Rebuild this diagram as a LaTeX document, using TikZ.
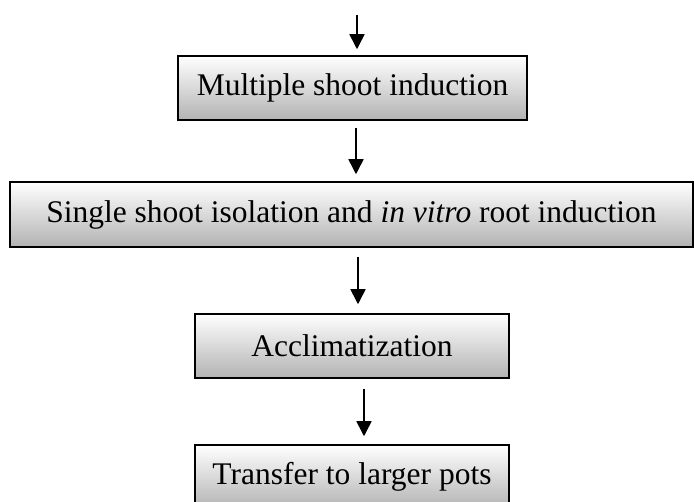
\documentclass[tikz,border=0pt]{standalone}
\usepackage{fontspec}
\setmainfont{Liberation Serif}
\usetikzlibrary{arrows.meta}

\tikzset{
    stepbox/.style={draw, line width=1.5pt, rectangle, top color=white, bottom color=black!30,
        minimum height=64pt, inner sep=0pt, font=\fontsize{31.5}{36}\selectfont},
    flow/.style={line width=1.6pt, -{Triangle[length=15pt,width=15pt]}}
}

\begin{document}
\begin{tikzpicture}[x=1pt, y=-1pt]
        \useasboundingbox (0,0) rectangle (694,502);
        \clip (0,0) rectangle (694,502);

        \node [stepbox, minimum width=349pt] (Multiple) at (352.5, 88) {Multiple shoot induction};
        \node [stepbox, minimum width=683pt, minimum height=65pt] (Single) at (351.5, 214.5) {Single shoot isolation and \textit{in vitro} root induction};
        \node [stepbox, minimum width=314pt] (Acclim) at (352, 346) {Acclimatization};
        \node [stepbox, minimum width=314pt] (Transfer) at (352, 477) {Transfer to larger pots};

        % arrow starts
        \coordinate (Start) at (357, 15);
        \coordinate (S1) at ([xshift=3.5pt, yshift=-7pt]Multiple.south);
        \coordinate (S2) at ([xshift=6.5pt, yshift=-9pt]Single.south);
        \coordinate (S3) at ([xshift=12pt, yshift=-10pt]Acclim.south);

        \draw [flow] (Start) -- ([yshift=6pt]Multiple.north -| Start);
        \draw [flow] (S1) -- ([yshift=7pt]Single.north -| S1);
        \draw [flow] (S2) -- ([yshift=9pt]Acclim.north -| S2);
        \draw [flow] (S3) -- ([yshift=8pt]Transfer.north -| S3);
    \end{tikzpicture}
\end{document}
